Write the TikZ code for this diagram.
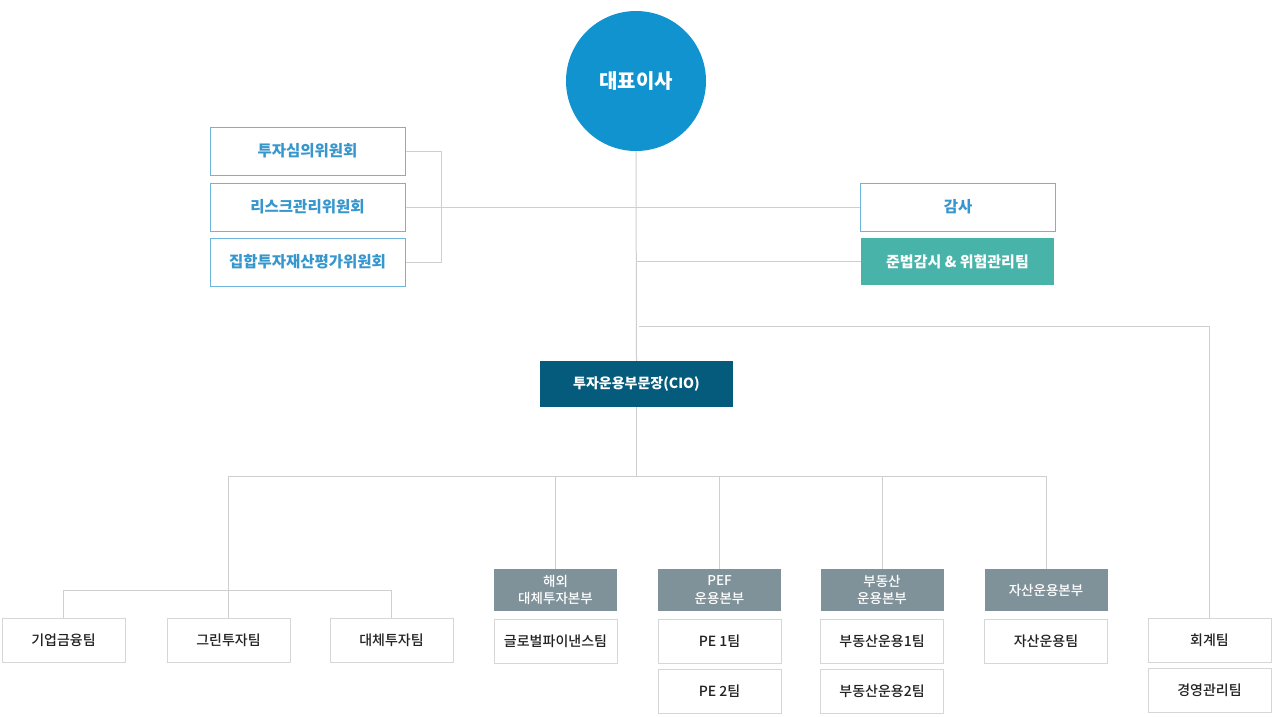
\documentclass[tikz,border=0pt]{standalone}
\usepackage{fontspec}
\setmainfont{Noto Sans CJK KR}
\newfontfamily\mediumfont{Noto Sans CJK KR Medium}
\usepackage{tikz}

\definecolor{ceoblue}{HTML}{1193D0}
\definecolor{comline}{HTML}{6CB6DE}
\definecolor{comtext}{HTML}{3797CD}
\definecolor{compteal}{HTML}{48B3A8}
\definecolor{ciodark}{HTML}{055B7B}
\definecolor{headgray}{HTML}{7F9199}
\definecolor{linkgray}{HTML}{CFCFCF}
\definecolor{teamline}{HTML}{D6D6D6}
\definecolor{teamtext}{HTML}{222222}

\begin{document}
\begin{tikzpicture}[x=1pt, y=-1pt,
    every node/.style={inner sep=0pt, align=center},
    link/.style={draw=linkgray, line width=1pt},
    ceo/.style={circle, fill=ceoblue, text=white, minimum size=140pt, font=\fontsize{20}{22}\selectfont\bfseries},
    committee/.style={draw=comline, line width=1pt, fill=white, text=comtext, minimum width=195pt, minimum height=48pt, font=\fontsize{15.5}{17}\selectfont\bfseries},
    compliance/.style={fill=compteal, text=white, minimum width=193pt, minimum height=47pt, font=\fontsize{15}{17}\selectfont\bfseries},
    cio/.style={fill=ciodark, text=white, minimum width=193pt, minimum height=46pt, font=\fontsize{14}{16}\selectfont\bfseries},
    header/.style={fill=headgray, text=white, minimum width=123pt, minimum height=42pt, font=\fontsize{13.5}{17.5}\mediumfont},
    team/.style={draw=teamline, line width=1pt, fill=white, text=teamtext, minimum width=123pt, minimum height=44pt, font=\fontsize{14}{16}\mediumfont}]
    \useasboundingbox (0,0) rectangle (1276,716);

    % top
    \node[ceo] (ceo) at (636,81) {대표이사};
    \node[committee] (invest) at (307.5,151) {투자심의위원회};
    \node[committee] (risk) at (307.5,207) {리스크관리위원회};
    \node[committee] (valuation) at (307.5,262) {집합투자재산평가위원회};
    \node[committee] (audit) at (958,207) {감사};
    \node[compliance] (comp) at (957.5,261.5) {준법감시 \& 위험관리팀};
    \node[cio] (cio) at (636.5,384) {투자운용부문장(CIO)};

    % divisions
    \node[team] (corp) at (63.5,640) {기업금융팀};
    \node[team] (green) at (228.5,640) {그린투자팀};
    \node[team] (alt) at (391.5,640) {대체투자팀};
    \node[header] (overseas) at (555.5,590) {해외\\대체투자본부};
    \node[team] (global) at (555.5,641) {글로벌파이낸스팀};
    \node[header] (pef) at (719.5,590) {PEF\\운용본부};
    \node[team] (pe1) at (719.5,641) {PE 1팀};
    \node[team] (pe2) at (719.5,691) {PE 2팀};
    \node[header] (estate) at (882,590) {부동산\\운용본부};
    \node[team] (estate1) at (882,641) {부동산운용1팀};
    \node[team] (estate2) at (882,691) {부동산운용2팀};
    \node[header] (asset) at (1046,590) {자산운용본부};
    \node[team] (assetteam) at (1046,641) {자산운용팀};
    \node[team] (acct) at (1209.5,640) {회계팀};
    \node[team] (mgmt) at (1209.5,690) {경영관리팀};

    \coordinate (bar) at (0,476);
    \coordinate (subbar) at (0,590);
    \coordinate (staff) at (0,326);

    % connectors
    \draw[link] (ceo.south) -- (cio.north);
    \draw[link] (cio.south) -- (cio.south |- bar);
    \draw[link] (invest.east) -- ++(36,0) |- (valuation.east);
    \draw[link] (risk.east) -- (audit.west);
    \draw[link] (ceo.south |- comp.west) -- (comp.west);
    \draw[link] ([xshift=3pt]ceo.south |- staff) -| (acct.north);
    \draw[link] (green.north |- bar) -- (asset.north |- bar);
    \draw[link] (green.north |- bar) -- (green.north);
    \draw[link] (corp.north |- subbar) -- (alt.north |- subbar);
    \foreach \n in {corp, alt}
        \draw[link] (\n.north |- subbar) -- (\n.north);
    \foreach \n in {overseas, pef, estate, asset}
        \draw[link] (\n.north |- bar) -- (\n.north);
\end{tikzpicture}
\end{document}
